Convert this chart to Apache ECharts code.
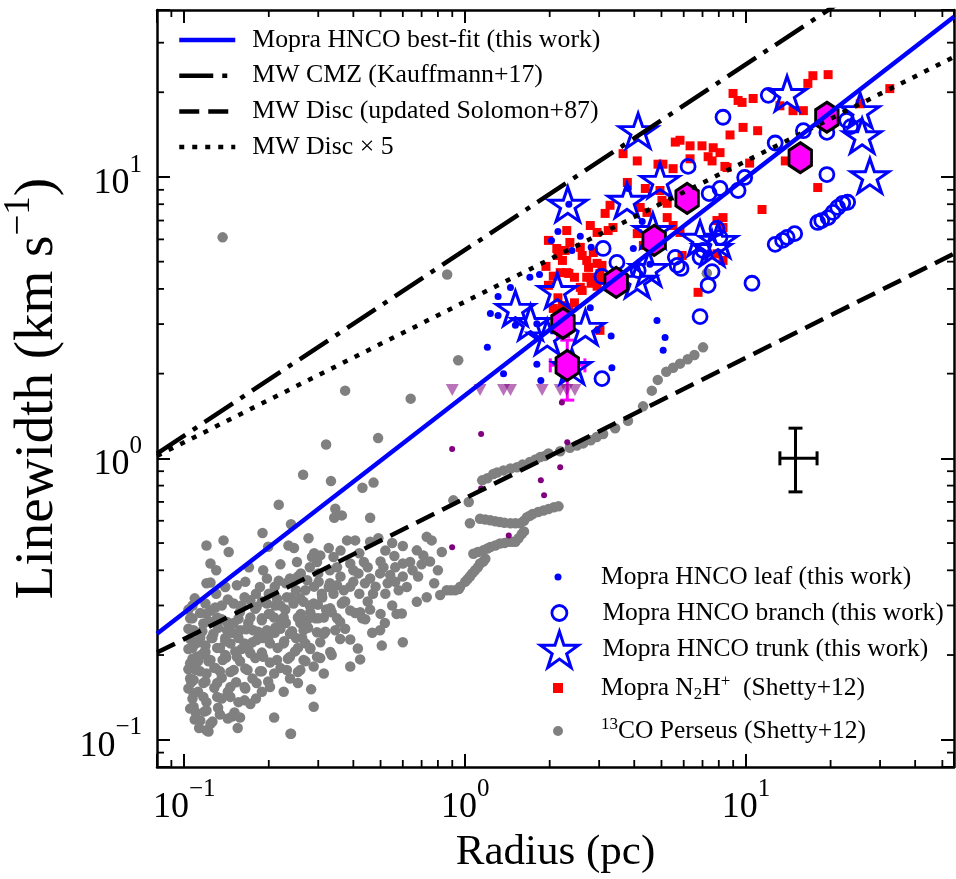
<!DOCTYPE html>
<html><head><meta charset="utf-8">
<script src="https://cdn.jsdelivr.net/npm/echarts@6/dist/echarts.min.js"></script>
<style>html,body{margin:0;padding:0;background:#fff}#chart{width:956px;height:879px}</style>
</head><body><div id="chart"></div>
<script>
// ---------------- DATA ----------------
// axis ranges
const xRange = [0.08, 55];
const yRange = [0.08, 39.2];
const xMinorTicks = [0.09,0.2,0.3,0.4,0.5,0.6,0.7,0.8,0.9,2,3,4,5,6,7,8,9,20,30,40,50];
const yMinorTicks = [0.09,0.2,0.3,0.4,0.5,0.6,0.7,0.8,0.9,2,3,4,5,6,7,8,9,20,30];

// model / fit lines (end points, R in pc, sigma in km/s)
const lineR = [0.08, 55];
const fitSigma = [0.238, 37.1];
const cmzSigma = [1.04, 77.4];
const discSigma = [0.204, 5.34];
const disc5Sigma = [1.02, 26.7];

// 13CO Perseus (Shetty+12) [R, sigma]
const perseusCO = [
[0.32,1.12],[0.49,1.18],[0.265,0.874],[0.333,0.83],[0.472,0.82],[0.431,0.786],[0.217,0.684],[0.345,0.662],[0.342,0.615],[0.364,0.627],
[0.459,0.615],[0.24,0.583],[0.19,0.543],[0.277,0.52],[0.138,0.511],[0.12,0.49],[0.144,0.465],[0.199,0.485],[0.235,0.49],[0.246,0.48],
[0.327,0.48],[0.38,0.511],[0.406,0.511],[0.459,0.505],[0.491,0.52],[0.305,0.452],[0.285,0.446],[0.34,0.446],[0.297,0.428],[0.252,0.428],
[0.39,0.423],[0.436,0.428],[0.512,0.41],[0.124,0.423],[0.13,0.40],[0.191,0.40],[0.217,0.367],[0.238,0.374],[0.124,0.362],[0.14,0.349],
[0.154,0.354],[0.165,0.364],[0.186,0.349],[0.197,0.374],[0.254,0.38],[0.274,0.369],[0.301,0.364],[0.327,0.349],[0.35,0.354],[0.37,0.34],
[0.40,0.364],[0.417,0.39],[0.459,0.374],[0.498,0.39],[0.541,0.385],[0.564,0.364],[0.62,0.349],[0.60,0.38],[0.564,0.41],[0.60,0.423],
[0.637,0.428],[0.673,0.471],[0.71,0.452],[0.60,0.488],[0.73,0.526],[0.76,0.511],[0.826,0.465],[0.776,0.36],[0.673,0.309],[0.73,0.321],
[0.815,0.327],[0.86,0.34],[0.921,0.34],[1.0,0.364],[1.04,0.38],[1.085,0.40],[1.13,0.423],[1.18,0.44],[1.07,0.458],[1.16,0.471],
[1.23,0.484],[1.33,0.498],[1.43,0.505],[1.51,0.505],[1.59,0.538],[1.13,0.61],[1.23,0.602],[1.33,0.594],[1.45,0.588],[1.57,0.588],
[1.66,0.618],[1.74,0.634],[1.90,0.653],[2.07,0.67],[0.908,0.709],[1.03,0.70],[1.04,0.588],[1.15,0.835],[1.26,0.88],[1.37,0.906],
[1.53,0.93],[1.70,0.97],[1.85,1.01],[1.98,1.04],[2.18,1.06],[2.36,1.09],[2.63,1.13],[2.94,1.19],[3.42,1.28],[3.80,1.36],
[4.30,1.53],[4.62,1.74],[4.85,1.90],[5.20,2.03],[5.50,2.10],[5.82,2.17],[6.20,2.25],[6.55,2.33],[7.03,2.48],[0.863,4.50],
[0.945,2.23],[0.137,6.10],[0.374,1.74],[0.64,1.63],[7.25,4.55],
[1.2,0.85],[1.3,0.89],[1.45,0.92],[1.6,0.95],[1.78,0.99],[1.92,1.02],[2.5,1.11],[2.8,1.16],[3.1,1.22],
[1.18,0.606],[1.28,0.598],[1.38,0.59],[1.51,0.588],[1.62,0.60],[1.70,0.625],[1.82,0.645],[1.98,0.66],[2.15,0.675],
[1.11,0.465],[1.2,0.478],[1.28,0.49],[1.38,0.50],[1.47,0.505],[1.55,0.52],[1.62,0.55],
[0.96,0.35],[1.02,0.372],[1.06,0.39],[1.11,0.41],[1.16,0.43],[0.89,0.34],[0.95,0.343],
[0.107,0.30],[0.124,0.288],[0.136,0.30],[0.15,0.305],[0.164,0.321],[0.172,0.313],[0.181,0.296],[0.197,0.305],[0.214,0.317],[0.232,0.321],
[0.245,0.305],[0.266,0.309],[0.289,0.305],[0.309,0.33],[0.34,0.33],[0.364,0.305],[0.39,0.288],[0.423,0.284],[0.335,0.284],[0.314,0.272],
[0.274,0.266],[0.254,0.272],[0.226,0.272],[0.209,0.272],[0.189,0.266],[0.172,0.272],[0.156,0.269],[0.142,0.262],[0.131,0.272],[0.117,0.259],
[0.108,0.245],[0.114,0.231],[0.127,0.238],[0.142,0.245],[0.158,0.245],[0.176,0.245],[0.197,0.245],[0.22,0.248],[0.238,0.238],[0.266,0.245],
[0.297,0.241],[0.314,0.238],[0.345,0.245],[0.39,0.227],[0.415,0.211],[0.335,0.20],[0.423,0.193],[0.498,0.245],[0.505,0.216],[0.60,0.222],
[0.57,0.28],[0.595,0.281],[0.107,0.212],[0.119,0.216],[0.131,0.212],[0.146,0.22],[0.164,0.22],[0.181,0.226],[0.202,0.22],[0.226,0.22],
[0.254,0.212],[0.281,0.212],[0.297,0.197],[0.266,0.192],[0.238,0.197],[0.214,0.192],[0.191,0.197],[0.172,0.203],[0.154,0.197],[0.137,0.192],
[0.124,0.192],[0.111,0.197],[0.105,0.187],[0.11,0.177],[0.12,0.172],[0.134,0.175],[0.15,0.177],[0.168,0.177],[0.186,0.175],[0.209,0.172],
[0.232,0.177],[0.259,0.177],[0.289,0.182],[0.314,0.172],[0.39,0.182],[0.108,0.163],[0.117,0.159],[0.131,0.159],[0.146,0.154],[0.164,0.154],
[0.181,0.159],[0.202,0.154],[0.226,0.148],[0.254,0.159],[0.283,0.151],[0.108,0.146],[0.117,0.142],[0.131,0.142],[0.146,0.142],[0.164,0.138],
[0.172,0.134],[0.108,0.131],[0.12,0.127],[0.134,0.123],[0.148,0.121],[0.158,0.12],[0.209,0.12],[0.289,0.131],[0.114,0.117],[0.124,0.114],
[0.155,0.11],[0.12,0.108],[0.113,0.11],[0.24,0.105],[0.122,0.107],[0.239,0.105],
[0.105,0.27],[0.11,0.22],[0.106,0.16],[0.112,0.19],[0.118,0.205],[0.125,0.23],[0.11,0.125],[0.115,0.2],[0.128,0.18],[0.14,0.2],
[0.14,0.23],[0.16,0.21],[0.17,0.25],[0.19,0.23],[0.21,0.24],[0.23,0.26],[0.25,0.23],[0.27,0.22],[0.15,0.26],[0.12,0.28],
[0.2,0.28],[0.22,0.3],[0.26,0.28],[0.28,0.3],[0.3,0.27],[0.32,0.29],[0.35,0.27],[0.29,0.35],[0.25,0.34],[0.21,0.35],
[0.18,0.33],[0.16,0.3],[0.13,0.33],[0.12,0.36],[0.37,0.31],[0.42,0.33],[0.45,0.31],[0.48,0.35],[0.52,0.33],[0.55,0.3],
[0.43,0.27],[0.5,0.28],[0.33,0.4],[0.36,0.38],[0.28,0.41],[0.22,0.42],[0.17,0.41],
[0.109,0.318],[0.119,0.305],[0.143,0.315],[0.189,0.31],[0.211,0.30],[0.259,0.318],[0.299,0.302],[0.374,0.31],
[0.1035,0.29],[0.114,0.282],[0.129,0.295],[0.158,0.285],[0.179,0.292],[0.202,0.28],[0.229,0.29],[0.281,0.284],[0.331,0.293],[0.406,0.282],[0.459,0.29],
[0.107,0.27],[0.124,0.262],[0.136,0.268],[0.169,0.26],[0.189,0.27],[0.220,0.264],[0.259,0.26],[0.293,0.27],[0.359,0.262],[0.441,0.268],[0.518,0.26],
[0.1035,0.248],[0.116,0.243],[0.132,0.25],[0.148,0.24],[0.166,0.247],[0.183,0.242],[0.211,0.25],[0.242,0.243],[0.276,0.25],[0.318,0.242],[0.374,0.248],[0.467,0.24],
[0.105,0.228],[0.112,0.222],[0.126,0.23],[0.140,0.224],[0.156,0.23],[0.175,0.222],[0.199,0.228],[0.227,0.224],[0.263,0.23],[0.305,0.222],[0.359,0.228],
[0.1035,0.21],[0.119,0.205],[0.134,0.212],[0.152,0.206],[0.169,0.21],[0.189,0.204],[0.215,0.212],[0.248,0.206],[0.281,0.21],[0.331,0.205],
[0.107,0.194],[0.122,0.19],[0.141,0.196],[0.158,0.19],[0.179,0.195],[0.202,0.188],[0.234,0.194],[0.270,0.19],[0.305,0.195],
[0.1035,0.178],[0.114,0.175],[0.129,0.18],[0.146,0.174],[0.165,0.179],[0.189,0.175],[0.220,0.18],[0.254,0.174],
[0.105,0.165],[0.119,0.161],[0.136,0.166],[0.153,0.16],[0.175,0.165],[0.199,0.161],[0.238,0.165],
[0.1035,0.152],[0.112,0.148],[0.128,0.153],[0.143,0.148],[0.165,0.152],[0.189,0.148],
[0.107,0.14],[0.120,0.136],[0.136,0.14],[0.156,0.136],[0.180,0.14],
[0.105,0.129],[0.118,0.126],[0.132,0.13],[0.151,0.125],
[0.109,0.118],[0.126,0.116],[0.143,0.119],
[0.2,0.33],[0.24,0.32],[0.27,0.34],[0.31,0.32],[0.33,0.36],[0.39,0.35],[0.44,0.36],[0.47,0.33],[0.53,0.36],[0.58,0.34],
[0.23,0.36],[0.26,0.39],[0.3,0.39],[0.35,0.41],[0.4,0.4],[0.45,0.41],[0.5,0.43],[0.56,0.45],[0.65,0.4],[0.7,0.42],
[0.68,0.38],[0.75,0.43],[0.8,0.4],[0.29,0.46],[0.36,0.47],[0.42,0.46],[0.52,0.47],[0.55,0.5]
];

// Mopra N2H+ (Shetty+12)
const n2hp = [
[19.6,23.1],[17.3,22.9],[16.6,21.5],[32.5,20.6],[8.99,19.8],[9.37,18.7],[10.6,19.0],[9.68,18.4],[13.2,17.9],[14.7,17.2],
[16.0,17.2],[25.5,18.2],[9.76,15.0],[8.77,14.1],[11.0,14.6],[5.60,13.3],[5.82,13.5],[6.32,12.9],[6.97,12.9],[7.64,12.7],
[8.08,12.2],[7.57,11.4],[8.56,10.8],[10.3,11.2],[3.65,12.1],[4.10,11.4],[4.86,11.1],[5.06,11.1],[5.50,10.7],[13.8,11.4],
[18.0,9.17],[11.4,7.66],[3.28,7.93],[3.15,7.42],[2.79,6.72],[2.95,6.35],[2.30,6.45],[2.36,5.85],[3.23,6.45],[3.36,6.61],
[4.20,7.79],[4.44,7.48],[5.24,7.17],[5.50,6.72],[8.28,7.17],[8.28,6.61],[7.88,7.00],[4.10,6.29],[4.31,5.71],[2.14,5.26],
[2.22,5.05],[2.61,5.26],[2.86,5.39],[2.75,4.77],[2.95,4.93],[2.30,4.57],[2.61,3.95],[2.79,4.40],[3.02,4.54],[5.92,5.26],
[6.75,3.89],[2.06,3.41],[2.18,3.30],[3.02,2.85],[4.38,9.10],[4.94,8.95],[3.78,9.56],[5.02,8.26],[5.24,8.06],[5.82,6.35],
[2.27,5.48],[2.57,5.62],[2.71,5.05],[3.07,4.85],[2.18,4.57],[2.34,4.54],[2.45,4.40],[2.71,4.40],[3.02,4.29],[2.81,4.19],
[2.57,4.05],[2.95,4.09],[2.14,3.72],[2.22,3.49],[2.34,3.43],[2.45,3.57],[8.28,5.05],[7.88,5.33],[1.98,5.95],[2.12,5.57],
[1.94,4.81],[2.06,4.44],[1.98,4.12],[6.32,11.6],[7.33,11.8],[8.41,10.9]
];

// Mopra HNCO leaf
const hncoLeaf = [
[2.14,6.40],[2.03,5.95],[2.57,6.15],[2.40,5.48],[2.81,5.62],[4.27,6.94],[3.97,5.57],[4.55,4.89],[1.70,4.40],[1.84,4.50],
[1.45,4.05],[1.31,3.76],[1.23,3.27],[1.31,3.22],[1.51,2.97],[1.80,3.01],[2.79,3.43],[2.95,2.85],[3.31,2.72],[1.20,2.48],
[1.37,2.00],[1.80,2.16],[1.86,1.89],[3.33,2.10],[4.82,3.09],[5.15,2.69],[5.07,2.42],[3.81,9.10],[2.34,8.0]
];

// Mopra HNCO branch
const hncoBranch = [
[8.28,16.3],[12.0,19.5],[12.7,13.2],[16.0,14.6],[19.4,14.4],[22.8,15.9],[23.6,15.1],[6.22,10.9],[7.39,8.73],[8.08,9.10],
[9.37,8.95],[9.89,9.96],[19.4,10.2],[3.10,5.57],[3.47,4.97],[3.07,4.43],[5.60,5.18],[5.69,4.85],[5.87,4.73],[6.86,5.18],
[7.03,5.48],[7.88,6.56],[8.08,6.10],[7.57,4.61],[7.33,4.12],[10.5,4.19],[6.86,3.19],[3.07,1.92],[12.7,5.76],[13.5,5.95],
[14.0,6.10],[14.9,6.29],[18.0,6.89],[18.6,7.00],[19.6,7.17],[20.4,7.48],[21.2,7.79],[22.1,8.06],[23.0,8.13],[4.13,4.65]
];

// Mopra HNCO trunk
const hncoTrunk = [
[4.13,14.6],[2.32,8.0],[4.94,9.72],[3.77,8.26],[14.0,19.8],[25.5,17.2],[25.9,14.0],[27.6,10.1],[4.66,6.45],[6.86,6.05],
[7.57,5.57],[7.95,5.95],[4.51,4.73],[4.10,4.29],[2.13,3.95],[1.51,3.41],[1.71,3.04],[1.96,2.70],[2.68,2.92],[2.40,2.12]
];

// binned HNCO (hexagons)
const binR = [19.4, 15.6, 6.17, 4.71, 3.45, 2.23, 2.31];
const binSigma = [16.3, 11.7, 8.39, 5.95, 4.22, 3.02, 2.14];

// error bars on the binned points: [R, sigma, sigLo, sigHi, RLo, RHi]
const binErr = [
  [2.31, 2.14, 1.61, 2.63, 2.01, 2.67],
  [2.23, 3.02, 2.70, 3.44, 2.23, 2.23]
];
// typical uncertainty cross
const typicalErr = [[15, 1.0, 0.76, 1.28, 13.2, 17.9]];

// upper limits (purple triangles) and purple points
const limitR = [0.90, 1.13, 1.37, 1.45, 1.88, 2.18, 2.30, 2.46];
const limitSigma = [1.75, 1.75, 1.75, 1.75, 1.75, 1.75, 1.75, 1.75];
const purplePts = [[0.899,1.08],[1.14,1.22],[2.31,1.14],[2.18,0.93],[1.86,0.835],[1.91,0.739],[1.14,0.782],[1.43,0.532],[0.899,0.483],[2.21,1.58]];

// names
const NAME_FIT = 'Mopra HNCO best-fit (this work)';
const NAME_CMZ = 'MW CMZ (Kauffmann+17)';
const NAME_DISC = 'MW Disc (updated Solomon+87)';
const NAME_DISC5 = 'MW Disc \u00d7 5';
const NAME_LEAF = 'Mopra HNCO leaf (this work)';
const NAME_BRANCH = 'Mopra HNCO branch (this work)';
const NAME_TRUNK = 'Mopra HNCO trunk (this work)';
const NAME_N2H = 'Mopra N2H+ (Shetty+12)';
const NAME_CO = '13CO Perseus (Shetty+12)';

// ---------------- CHART ----------------
const FONT = 'Liberation Serif';
const STAR = 'path://M50,0L61.23,34.55L97.55,34.55L68.17,55.9L79.39,90.45L50,69.1L20.61,90.45L31.83,55.9L2.45,34.55L38.77,34.55Z';
const HEX = 'path://M50,0L93.3,25L93.3,75L50,100L6.7,75L6.7,25Z';

function powLabel(v) {
  const e = Math.log10(v), r = Math.round(e);
  if (Math.abs(e - r) > 1e-6) return '';
  return '{b|10}{s|' + (r < 0 ? '\u2212' + (-r) : r) + '}';
}
const labelRich = {
  b: {fontFamily: FONT, fontSize: 36, lineHeight: 49, verticalAlign: 'bottom', color: '#000'},
  s: {fontFamily: FONT, fontSize: 25, lineHeight: 25, verticalAlign: 'top', color: '#000'}
};
function logAxis(pos, extra) {
  const isX = pos === 'bottom' || pos === 'top';
  return Object.assign({
    type: 'log', logBase: 10, position: pos,
    min: isX ? xRange[0] : yRange[0], max: isX ? xRange[1] : yRange[1],
    axisLine: {show: true, onZero: false, lineStyle: {color: '#000', width: 2.5}},
    axisTick: {show: true, inside: true, length: 13, lineStyle: {color: '#000', width: 2}},
    axisLabel: {show: false},
    splitLine: {show: false}, minorTick: {show: false}, minorSplitLine: {show: false}
  }, extra || {});
}

function errRender(color, cap, lw) {
  return function (params, api) {
    const x = api.value(0), y = api.value(1);
    const p1 = api.coord([x, api.value(2)]), p2 = api.coord([x, api.value(3)]);
    const p3 = api.coord([api.value(4), y]), p4 = api.coord([api.value(5), y]);
    const L = (a, b, c, d) => ({type: 'line', shape: {x1: a, y1: b, x2: c, y2: d}, style: {stroke: color, lineWidth: lw}});
    const ch = [
      L(p1[0], p1[1], p2[0], p2[1]), L(p1[0] - cap, p1[1], p1[0] + cap, p1[1]), L(p2[0] - cap, p2[1], p2[0] + cap, p2[1])
    ];
    if (Math.abs(p4[0] - p3[0]) > 1) {
      ch.push(L(p3[0], p3[1], p4[0], p4[1]), L(p3[0], p3[1] - cap, p3[0], p3[1] + cap), L(p4[0], p4[1] - cap, p4[0], p4[1] + cap));
    }
    return {type: 'group', children: ch};
  };
}
function minorX(params, api) {
  const cs = params.coordSys;
  const px = api.coord([api.value(0), 1])[0];
  return {type: 'group', children: [
    {type: 'line', shape: {x1: px, y1: cs.y + cs.height, x2: px, y2: cs.y + cs.height - 7}, style: {stroke: '#000', lineWidth: 1.8}},
    {type: 'line', shape: {x1: px, y1: cs.y, x2: px, y2: cs.y + 7}, style: {stroke: '#000', lineWidth: 1.8}}
  ]};
}
function minorY(params, api) {
  const cs = params.coordSys;
  const py = api.coord([1, api.value(1)])[1];
  return {type: 'group', children: [
    {type: 'line', shape: {x1: cs.x, y1: py, x2: cs.x + 7, y2: py}, style: {stroke: '#000', lineWidth: 1.8}},
    {type: 'line', shape: {x1: cs.x + cs.width, y1: py, x2: cs.x + cs.width - 7, y2: py}, style: {stroke: '#000', lineWidth: 1.8}}
  ]};
}
const pairs = (a, b) => a.map((v, i) => [v, b[i]]);

const legendRich = {
  sub: {fontFamily: FONT, fontSize: 17, lineHeight: 17, verticalAlign: 'bottom', color: '#000'},
  sup: {fontFamily: FONT, fontSize: 17, lineHeight: 17, verticalAlign: 'top', color: '#000'}
};
function legendFmt(n) {
  if (n === NAME_N2H) return 'Mopra N{sub|2}H{sup|+}  (Shetty+12)';
  if (n === NAME_CO) return '{sup|13}CO Perseus (Shetty+12)';
  return n;
}
function sideLegend(name, cy, w, h, itemStyle, icon) {
  const left = 558 - w / 2;
  const rowH = Math.max(h, 30);
  return {
    data: [icon ? {name: name, icon: icon} : name], orient: 'vertical', left: left, top: cy - rowH / 2,
    itemWidth: w, itemHeight: h, padding: 0, selectedMode: false, formatter: legendFmt,
    itemStyle: itemStyle,
    textStyle: {fontFamily: FONT, fontSize: 25.5, color: '#000', lineHeight: 30, rich: legendRich,
      padding: [0, 0, 0, 601 - (left + w + 5)]}
  };
}

const option = {
  animation: false,
  backgroundColor: '#fff',
  grid: {left: 157, right: 2, top: 10, bottom: 112, containLabel: false, outerBoundsMode: 'none'},
  xAxis: [
    logAxis('bottom', {
      axisLabel: {show: true, formatter: powLabel, margin: 10, rich: labelRich},
      name: 'Radius (pc)', nameLocation: 'middle', nameGap: 62,
      nameTextStyle: {fontFamily: FONT, fontSize: 43, color: '#000'}
    }),
    logAxis('top')
  ],
  yAxis: [
    logAxis('left', {
      axisLabel: {show: true, formatter: powLabel, margin: 15, rich: labelRich},
      name: '{a|Linewidth (km s}{b|\u22121}{a|)}', nameLocation: 'middle', nameGap: 92, nameRotate: 90,
      nameTextStyle: {rich: {
        a: {fontFamily: FONT, fontSize: 55, color: '#000', lineHeight: 64, verticalAlign: 'bottom'},
        b: {fontFamily: FONT, fontSize: 37, color: '#000', lineHeight: 37, verticalAlign: 'top'}
      }}
    }),
    logAxis('right')
  ],
  legend: [
    {
      data: [NAME_FIT, NAME_CMZ, NAME_DISC, NAME_DISC5], orient: 'vertical', left: 177, top: 25,
      itemWidth: 56, itemHeight: 14, itemGap: 5.7, padding: 0, selectedMode: false,
      itemStyle: {color: 'transparent', borderColor: 'transparent', borderWidth: 0},
      lineStyle: {width: 4.5},
      textStyle: {fontFamily: FONT, fontSize: 25.8, color: '#000', lineHeight: 30, padding: [0, 0, 0, 12]}
    },
    sideLegend(NAME_LEAF, 577, 7, 7, {color: '#0000ff', borderWidth: 0}, 'circle'),
    sideLegend(NAME_BRANCH, 613, 15, 15, {color: 'transparent', borderColor: '#0000ff', borderWidth: 2.8}, 'circle'),
    sideLegend(NAME_TRUNK, 648, 38, 36, {color: 'transparent', borderColor: '#0000ff', borderWidth: 3}, STAR),
    sideLegend(NAME_N2H, 688, 10, 10, {color: '#ff0000', borderWidth: 0}, 'rect'),
    sideLegend(NAME_CO, 731, 10, 10, {color: '#808080', borderWidth: 0}, 'circle')
  ],
  series: [
    {name: NAME_CO, type: 'scatter', data: perseusCO, symbol: 'circle', symbolSize: 10.5,
      itemStyle: {color: '#808080', opacity: 1}, silent: true},
    {name: 'purple points', type: 'scatter', data: purplePts, symbol: 'circle', symbolSize: 6,
      itemStyle: {color: '#800080', opacity: 1}, silent: true},
    {name: 'upper limits', type: 'scatter', data: pairs(limitR, limitSigma), symbol: 'triangle', symbolRotate: 180,
      symbolSize: [13, 12], itemStyle: {color: 'rgba(128,0,128,0.55)', opacity: 1}, silent: true},
    {name: NAME_N2H, type: 'scatter', data: n2hp, symbol: 'rect', symbolSize: 9,
      itemStyle: {color: '#ff0000', opacity: 1}, silent: true},
    {name: NAME_LEAF, type: 'scatter', data: hncoLeaf, symbol: 'circle', symbolSize: 7,
      itemStyle: {color: '#0000ff', opacity: 1}, silent: true},
    {name: NAME_BRANCH, type: 'scatter', data: hncoBranch, symbol: 'circle', symbolSize: 14,
      itemStyle: {color: 'transparent', borderColor: '#0000ff', borderWidth: 2.8, opacity: 1}, silent: true},
    {name: NAME_TRUNK, type: 'scatter', data: hncoTrunk, symbol: STAR, symbolKeepAspect: true, symbolSize: [38, 36],
      itemStyle: {color: 'transparent', borderColor: '#0000ff', borderWidth: 3, opacity: 1}, silent: true},
    {name: NAME_DISC, type: 'line', data: pairs(lineR, discSigma), symbol: 'none', silent: true,
      lineStyle: {color: '#000', width: 4.5, type: [20, 9], cap: 'butt'}},
    {name: NAME_DISC5, type: 'line', data: pairs(lineR, disc5Sigma), symbol: 'none', silent: true,
      lineStyle: {color: '#000', width: 4.5, type: [5, 8], cap: 'butt'}},
    {name: NAME_CMZ, type: 'line', data: pairs(lineR, cmzSigma), symbol: 'none', silent: true,
      lineStyle: {color: '#000', width: 4.5, type: [34, 9, 5, 9], cap: 'butt'}},
    {name: NAME_FIT, type: 'line', data: pairs(lineR, fitSigma), symbol: 'none', silent: true,
      lineStyle: {color: '#0000ff', width: 4.5}},
    {name: 'binned errors', type: 'custom', data: binErr, renderItem: errRender('#ff00ff', 7, 3), silent: true,
      encode: {x: 0, y: 1}},
    {name: 'binned HNCO', type: 'scatter', data: pairs(binR, binSigma), symbol: HEX, symbolKeepAspect: true,
      symbolSize: [26, 30], itemStyle: {color: '#ff00ff', borderColor: '#000', borderWidth: 3, opacity: 1}, silent: true},
    {name: 'typical error', type: 'custom', data: typicalErr, renderItem: errRender('#000', 7, 3), silent: true,
      encode: {x: 0, y: 1}},
    {name: 'x minor ticks', type: 'custom', data: xMinorTicks.map(v => [v, 1]), renderItem: minorX, silent: true,
      encode: {x: 0, y: 1}},
    {name: 'y minor ticks', type: 'custom', data: yMinorTicks.map(v => [1, v]), renderItem: minorY, silent: true,
      encode: {x: 0, y: 1}}
  ]
};
const chart = echarts.init(document.getElementById('chart'), null, {renderer: 'canvas'});
chart.setOption(option);
</script></body></html>
